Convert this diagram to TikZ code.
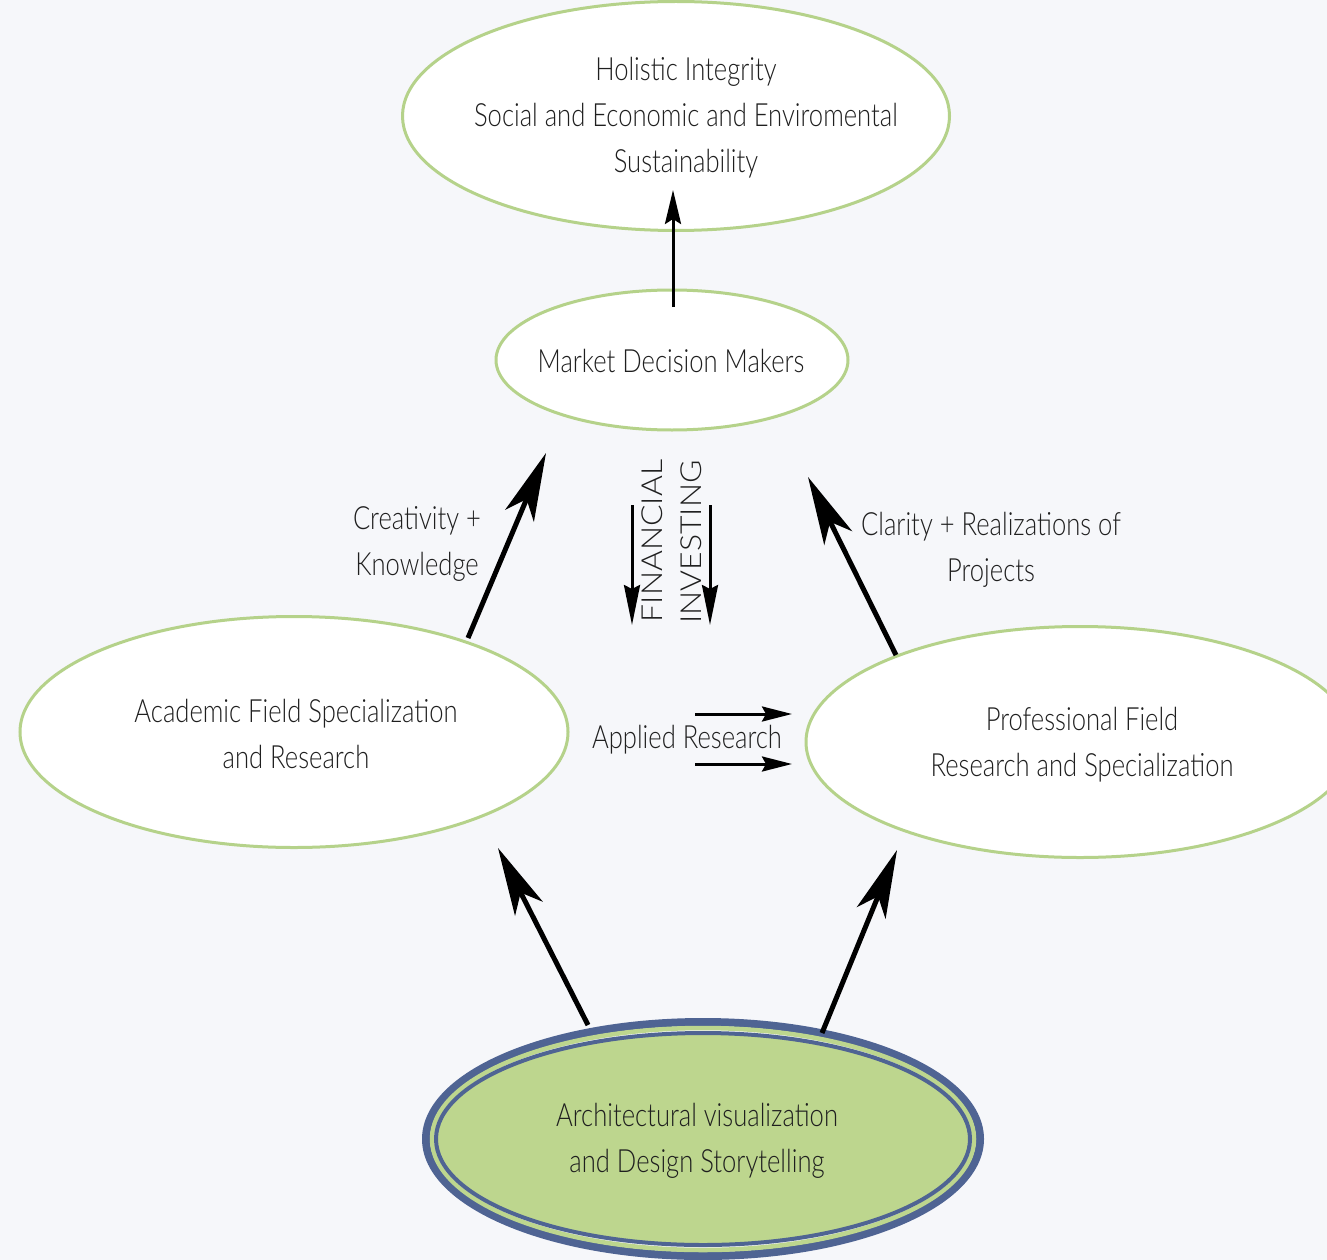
\documentclass[tikz,border=0pt]{standalone}
\usepackage{fontspec}
\IfFontExistsTF{Lato Light}{%
  \setmainfont{Lato Light}[FakeStretch=0.8]
  \newfontfamily\capsfont{Lato Light}[FakeStretch=1.1]
}{%
  \setmainfont{Lato}[FakeStretch=0.78]
  \newfontfamily\capsfont{Lato}[FakeStretch=1.1]
}
\usetikzlibrary{shapes.geometric,arrows.meta,calc}
\definecolor{bg}{HTML}{F6F7FA}
\definecolor{lgreen}{HTML}{B5D28A}
\definecolor{fgreen}{HTML}{BDD68E}
\definecolor{dblue}{HTML}{4F6493}
\definecolor{txt}{HTML}{1F1F1F}
\begin{document}
\begin{tikzpicture}[x=1pt,y=-1pt,
  oval/.style={ellipse, draw=lgreen, line width=3pt, fill=white, inner sep=0pt},
  lbl/.style={align=center, text=txt, inner sep=0pt, font=\fontsize{32}{46}\selectfont},
  capslbl/.style={text=txt, inner sep=0pt, rotate=90, font=\capsfont\fontsize{29}{30}\selectfont},
  bigarrow/.style={line width=5pt, -{Stealth[length=68pt,width=31pt,inset=18pt]}},
  midarrow/.style={line width=3pt, -{Stealth[length=34pt,width=16pt,inset=5pt]}},
  finarrow/.style={line width=3pt, -{Stealth[length=40pt,width=16pt,inset=4pt]}},
  apparrow/.style={line width=3pt, -{Stealth[length=30pt,width=15pt,inset=4pt]}}]
\useasboundingbox (0,0) rectangle (1327,1260);
\fill[bg] (0,0) rectangle (1327,1260);

% ellipse nodes
\node[oval, minimum width=547pt, minimum height=229pt] (top) at (676,116) {};
\node[oval, minimum width=352pt, minimum height=140pt] (mkt) at (672,360) {};
\node[oval, minimum width=548pt, minimum height=231pt] (aca) at (294,732) {};
\node[oval, minimum width=548pt, minimum height=231pt] (pro) at (1080,742) {};

\draw[dblue, line width=8pt] (703,1139) ellipse [x radius=277, y radius=117];
\draw[fgreen, line width=4.5pt] (703,1139) ellipse [x radius=271, y radius=111];
\node[oval, fill=fgreen, draw=dblue, line width=4pt, minimum width=534pt, minimum height=212pt]
  (viz) at (703,1139) {};

% texts of the ellipses
\node[lbl] (topt) at ($(top.center)+(10,2)$)
  {Holistic Integrity\\Social and Economic and Enviromental\\Sustainability};
\node[lbl] (mktt) at ($(mkt.center)+(-1,1)$) {Market Decision Makers};
\node[lbl] (acat) at ($(aca.center)+(2,2)$) {Academic Field Specialization\\and Research};
\node[lbl] (prot) at ($(pro.center)+(2,3)$) {Professional Field\\Research and Specialization};
\node[lbl] (vizt) at ($(viz.center)+(-6,2)$) {Architectural visualization\\and Design Storytelling};

% labels
\node[lbl] (ck) at (417,544) {Creativity +\\Knowledge};
\node[lbl] (cr) at (991,550) {Clarity + Realizations of\\Projects};
\node[lbl] (ar) at (687,740) {Applied Research};
\node[capslbl] (fin) at (652,541) {FINANCIAL};
\node[capslbl] (inv) at (691,542) {INVESTING};

% free-end coordinates
\coordinate (f1s) at (632,505);
\coordinate (f1e) at (632,625);
\coordinate (f2s) at (710,505);
\coordinate (f2e) at (710,625);
\coordinate (a1s) at (695,714);
\coordinate (a1e) at (792,714);
\coordinate (a2s) at (695,764);
\coordinate (a2e) at (792,764);

% connectors
\draw[midarrow] ($(mkt.center)+(1,-53)$) -- ($(top.center)+(-3,74)$);
\draw[bigarrow] ($(aca.center)+(174,-94)$) -- ($(mkt.center)+(-126,93)$);
\draw[bigarrow] ($(pro.center)+(-184,-87)$) -- ($(mkt.center)+(136,117)$);
\draw[bigarrow] ($(viz.center)+(-115,-114)$) -- ($(aca.center)+(204,116)$);
\draw[bigarrow] ($(viz.center)+(119,-106)$) -- ($(pro.center)+(-183,108)$);

\draw[finarrow] (f1s) -- (f1e);
\draw[finarrow] (f2s) -- (f2e);
\draw[apparrow] (a1s) -- (a1e);
\draw[apparrow] (a2s) -- (a2e);
\end{tikzpicture}
\end{document}
